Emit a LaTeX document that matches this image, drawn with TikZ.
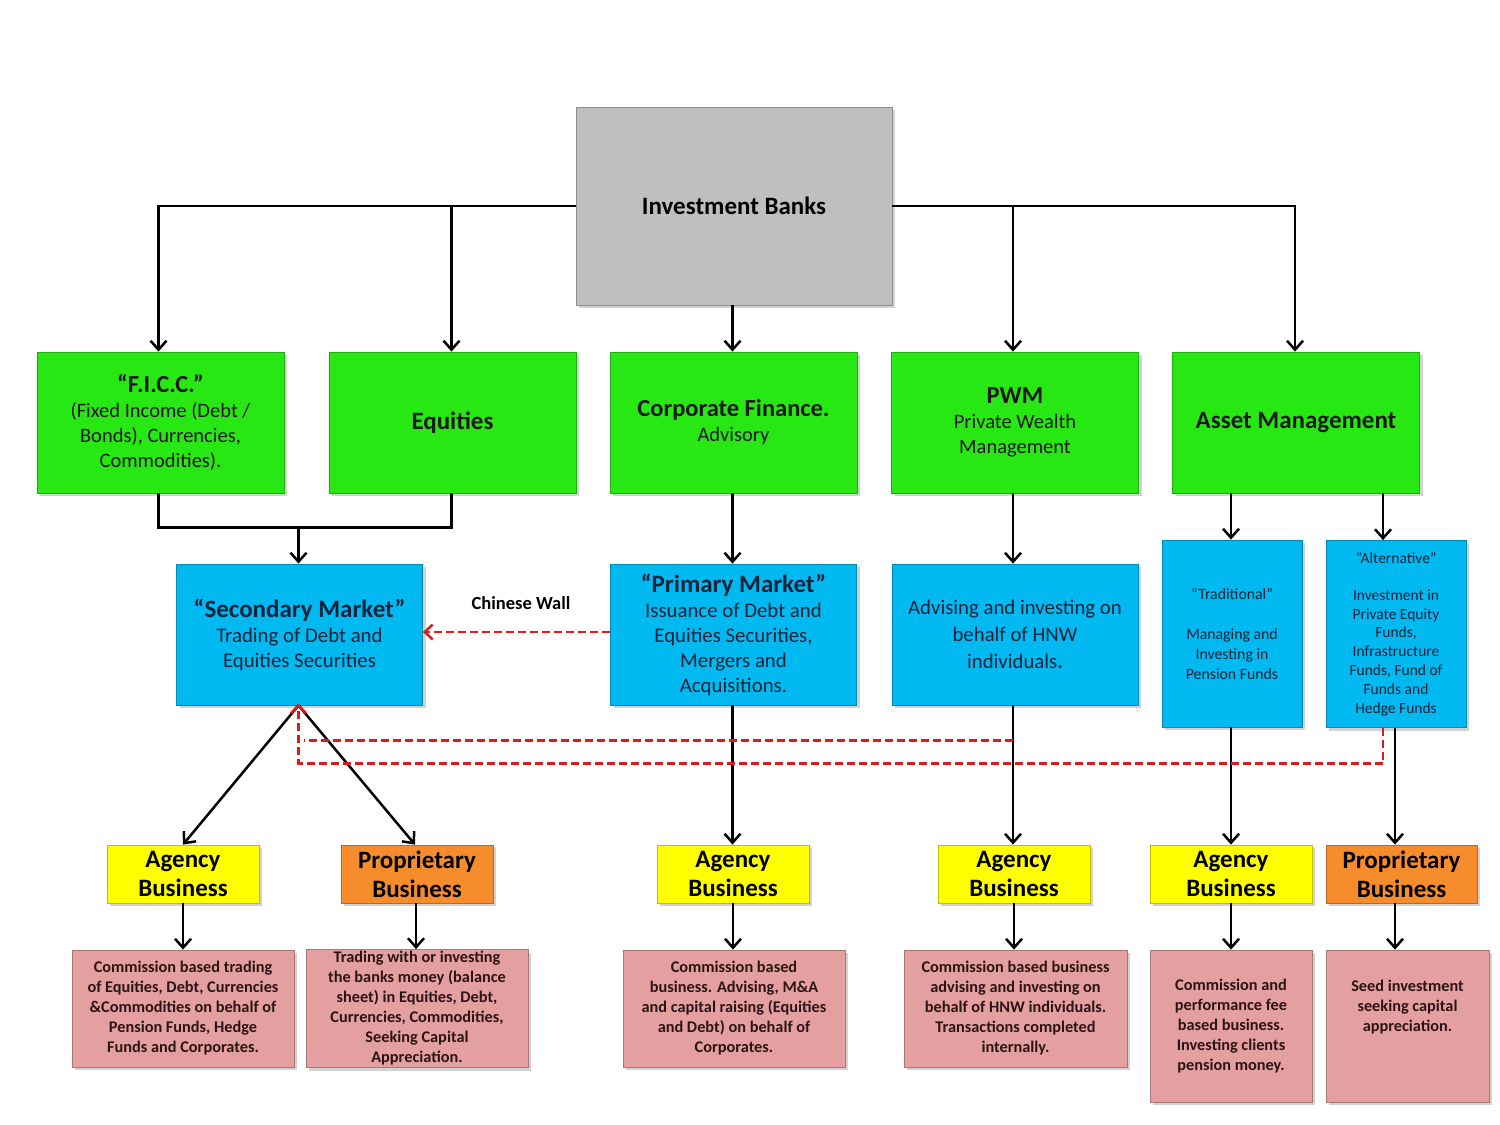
\documentclass[tikz,border=0pt]{standalone}
\usepackage{fontspec}
\setmainfont{Carlito}
\usetikzlibrary{arrows.meta,shadows,calc}
\definecolor{ibgray}{RGB}{191,191,191}
\definecolor{bgreen}{RGB}{40,232,20}
\definecolor{bblue}{RGB}{0,185,240}
\definecolor{byellow}{RGB}{255,255,0}
\definecolor{borange}{RGB}{247,140,45}
\definecolor{bpink}{RGB}{228,160,160}
\definecolor{bluetext}{RGB}{15,35,60}
\definecolor{pinktext}{RGB}{45,20,20}
\definecolor{wallred}{RGB}{215,30,30}
\newcommand{\hd}[1]{\fontsize{#1}{26}\selectfont\bfseries}
\tikzset{
  basebox/.style={draw=#1!75!black, line width=0.8pt, fill=#1, align=center, inner sep=2pt,
     drop shadow={shadow xshift=3pt, shadow yshift=-3pt, opacity=0.35}},
  ibbox/.style={basebox=ibgray, minimum width=316pt, minimum height=198pt},
  gbox/.style={basebox=bgreen, minimum width=247pt, minimum height=141pt, text=black!90},
  bbox/.style={basebox=bblue, minimum width=246pt, minimum height=141pt, text=bluetext},
  nbox/.style={basebox=bblue, minimum width=140pt, minimum height=187pt, text=bluetext},
  ybox/.style={basebox=byellow, minimum width=152pt, minimum height=58pt, text=black},
  obox/.style={basebox=borange, minimum width=152pt, minimum height=58pt, text=black},
  pbox/.style={basebox=bpink, minimum width=222pt, minimum height=117pt, text=pinktext},
  conn/.style={line width=2.5pt, black, -{Straight Barb[length=9pt,width=16pt,line width=2.5pt]}},
  plain/.style={line width=2.5pt, black},
  reddash/.style={line width=2.5pt, wallred, dash pattern=on 8pt off 4pt},
  redarrow/.style={reddash, -{Straight Barb[length=8pt,width=15pt,line width=2.5pt]}},
  big/.style={font=\fontsize{25}{29}\selectfont\bfseries},
  ybig/.style={font=\fontsize{25}{29}\selectfont\bfseries},
  ptext/.style={font=\fontsize{16.3}{20}\selectfont\bfseries},
  gtext/.style={font=\fontsize{20.5}{25}\selectfont},
  btext/.style={font=\fontsize{20.8}{25}\selectfont},
}
\begin{document}
\begin{tikzpicture}[x=1pt,y=-1pt]
\useasboundingbox[fill=white] (0,0) rectangle (1500,1125);

% top
\node[ibbox, big] (ib) at (734,206) {Investment Banks};

% green row
\node[gbox, gtext] (ficc) at (160.5,422.5) {{\hd{24.5}“F.I.C.C.”}\\ (Fixed Income (Debt /\\ Bonds), Currencies,\\ Commodities).};
\node[gbox, big] (eq) at (452.5,422.5) {Equities};
\node[gbox, gtext] (cf) at (733.5,422.5) {{\hd{24.5}Corporate Finance.}\\ Advisory};
\node[gbox, gtext] (pwm) at (1015,422.5) {{\hd{24.5}PWM}\\ Private Wealth\\ Management};
\node[gbox, big] (am) at (1296,422.5) {Asset Management};

% blue row
\node[bbox, btext] (sec) at (299.5,634.5) {{\hd{25}“Secondary Market”}\\ Trading of Debt and\\ Equities Securities};
\node[bbox, btext] (pm) at (733.5,634.5) {{\hd{25}“Primary Market”}\\ Issuance of Debt and\\ Equities Securities,\\ Mergers and\\ Acquisitions.};
\node[bbox, font=\fontsize{20.8}{27}\selectfont] (adv) at (1015,634.5) {Advising and investing on\\ behalf of HNW\\ individuals\textbf{.}};
\node[nbox, font=\fontsize{15.8}{20}\selectfont] (trad) at (1232,633.5) {“Traditional”\\[20pt] Managing and\\ Investing in\\ Pension Funds};
\node[nbox, font=\fontsize{15.5}{18.8}\selectfont] (alt) at (1396,634) {“Alternative”\\[18pt] Investment in\\ Private Equity\\ Funds,\\ Infrastructure\\ Funds, Fund of\\ Funds and\\ Hedge Funds};

\node[font=\fontsize{18.5}{21}\selectfont\bfseries] (cw) at (521,603) {Chinese Wall};

% yellow / orange row
\node[ybox, ybig] (ag1) at (183,874) {Agency\\ Business};
\node[obox, ybig] (pr1) at (417,874) {Proprietary\\ Business};
\node[ybox, ybig] (ag2) at (733,874) {Agency\\ Business};
\node[ybox, ybig] (ag3) at (1014,874) {Agency\\ Business};
\node[ybox, ybig, minimum width=162pt] (ag4) at (1231,874) {Agency\\ Business};
\node[obox, ybig, minimum width=151pt] (pr2) at (1401.5,874) {Proprietary\\ Business};

% pink row
\node[pbox, ptext] (p1) at (183,1008.5) {Commission based trading\\ of Equities, Debt, Currencies\\ \&Commodities on behalf of\\ Pension Funds, Hedge\\ Funds and Corporates.};
\node[pbox, ptext] (p2) at (417,1008.5) {Trading with or investing\\ the banks money (balance\\ sheet) in Equities, Debt,\\ Currencies, Commodities,\\ Seeking Capital\\ Appreciation.};
\node[pbox, ptext] (p3) at (734,1008.5) {Commission based\\ business. Advising, M\&A\\ and capital raising (Equities\\ and Debt) on behalf of\\ Corporates.};
\node[pbox, ptext, minimum width=223pt] (p4) at (1015.5,1008.5) {Commission based business\\ advising and investing on\\ behalf of HNW individuals.\\ Transactions completed\\ internally.};
\node[pbox, ptext, minimum width=162pt, minimum height=152pt] (p5) at (1231,1026) {Commission and\\ performance fee\\ based business.\\ Investing clients\\ pension money.};
\node[pbox, ptext, minimum width=163pt, minimum height=152pt] (p6) at (1407.5,1026) {Seed investment\\ seeking capital\\ appreciation.\\[20pt]};

% connectors from top
\coordinate (ficcin) at ([xshift=-2pt]ficc.north);
\coordinate (eqin) at ([xshift=-1pt]eq.north);
\coordinate (pwmin) at ([xshift=-2pt]pwm.north);
\coordinate (amin) at ([xshift=-1pt]am.north);
\coordinate (cfin) at ([xshift=-1pt]cf.north);
\draw[conn] (ib.west) -| (ficcin);
\draw[conn] (ib.west -| eqin) -- (eqin);
\draw[conn] (ib.east) -| (amin);
\draw[conn] (ib.east -| pwmin) -- (pwmin);
\draw[conn] (ib.south -| cfin) -- (cfin);

% FICC + Equities join
\coordinate (j1) at ($(ficcin |- ficc.south)+(0,34)$);
\coordinate (secin) at ([xshift=-1pt]sec.north);
\draw[plain] (ficcin |- ficc.south) -- (j1) -| (eqin |- eq.south);
\draw[conn] (j1 -| secin) -- (secin);

% middle columns
\draw[conn] (cfin |- cf.south) -- (cfin |- pm.north);
\draw[conn] (pwmin |- pwm.south) -- (pwmin |- adv.north);
\coordinate (tradx) at ([xshift=-1pt]trad.north);
\coordinate (altx) at ([xshift=-13pt]alt.north);
\draw[conn] (tradx |- am.south) -- (tradx);
\draw[conn] (altx |- am.south) -- (altx);

% blue -> yellow
\coordinate (secout) at ([xshift=-1pt]sec.south);
\draw[conn] (secout) -- (ag1.north);
\draw[conn] (secout) -- ([xshift=-2pt]pr1.north);
\draw[conn] (cfin |- pm.south) -- (cfin |- ag2.north);
\draw[conn] (pwmin |- adv.south) -- (pwmin |- ag3.north);
\draw[conn] (tradx |- trad.south) -- (tradx |- ag4.north);
\coordinate (altout) at ([xshift=-1pt]alt.south);
\draw[conn] (altout) -- (altout |- pr2.north);

% yellow -> pink
\draw[conn] (ag1.south) -- (ag1.south |- p1.north);
\draw[conn] ([xshift=-1pt]pr1.south) -- ([xshift=-1pt]pr1.south |- p2.north);
\draw[conn] (ag2.south) -- (ag2.south |- p3.north);
\draw[conn] (ag3.south) -- (ag3.south |- p4.north);
\draw[conn] (ag4.south) -- (ag4.south |- p5.north);
\draw[conn] (altout |- pr2.south) -- (altout |- p6.north);

% Chinese wall
\coordinate (cw1) at (pm.west |- 0,632);
\coordinate (cw2) at (sec.east |- 0,632);
\draw[redarrow] (cw1) -- (cw2);
\coordinate (r1) at ($(pwmin |- adv.south)+(0,35)$);
\coordinate (r2) at ([xshift=-13pt]alt.south);
\coordinate (r3) at ($(secout)+(0,58)$);
\coordinate (r4) at ($(r1 -| secout)+(5,0)$);
\draw[reddash] (r1) -- (r4);
\draw[redarrow] (r2) |- (r3) -- ([yshift=2pt]secout);
\end{tikzpicture}
\end{document}
